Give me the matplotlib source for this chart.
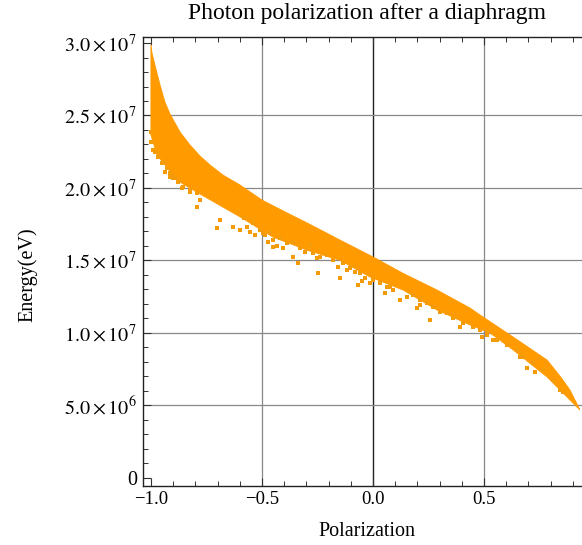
import matplotlib
matplotlib.use('Agg')
import matplotlib.pyplot as plt
from matplotlib.ticker import MultipleLocator, FuncFormatter

plt.rcParams['font.family'] = ['Liberation Serif', 'DejaVu Serif']
plt.rcParams['mathtext.fontset'] = 'stix'

# Dense band of photons: upper and lower edges (polarization, energy in eV)
upper_pol = [-1.0, -0.995, -0.982, -0.959, -0.937, -0.914, -0.869, -0.824,
             -0.779, -0.734, -0.676, -0.599, -0.5, -0.396, -0.297, -0.149,
             0.0, 0.135, 0.288, 0.437, 0.482, 0.631, 0.784, 0.842, 0.887, 0.932]
upper_energy = [2.99e7, 2.93e7, 2.849e7, 2.711e7, 2.593e7, 2.51e7, 2.386e7, 2.296e7,
                2.22e7, 2.158e7, 2.089e7, 2.02e7, 1.916e7, 1.834e7, 1.758e7, 1.64e7,
                1.523e7, 1.41e7, 1.295e7, 1.17e7, 1.122e7, 0.97e7, 0.811e7, 0.70e7,
                0.604e7, 0.466e7]
lower_pol = [-1.0, -0.973, -0.928, -0.869, -0.793, -0.599, -0.45, -0.297,
             -0.149, -0.014, 0.135, 0.288, 0.437, 0.527, 0.631, 0.784,
             0.887, 0.932]
lower_energy = [2.365e7, 2.23e7, 2.14e7, 2.04e7, 1.97e7, 1.80e7, 1.66e7, 1.57e7,
                1.50e7, 1.385e7, 1.295e7, 1.157e7, 1.053e7, 0.998e7, 0.881e7, 0.694e7,
                0.535e7, 0.466e7]

# Sparse photons along and below the lower edge of the band
stray_pol = [-1.0, -0.982, -0.946, -0.937, -0.905, -0.892, -0.86, -0.824, -0.914,
             -0.779, -0.703, -0.599, -0.495, -0.45, -0.36, -0.689, -0.793, -0.631,
             -0.405, -0.338, -0.248, -0.149, -0.068, -0.432, -0.532, -0.473, -0.554,
             -0.252, -0.117, -0.05, 0.054, 0.122, 0.257, 0.198, 0.392, 0.077,
             0.212, 0.491, 0.694, 0.73, 0.662, 0.541, 0.842,
             -0.58, -0.569, -0.539, -0.509, -0.486, -0.464, -0.449, -0.419, -0.389,
             -0.359, -0.329, -0.306, -0.284, -0.269, -0.239, -0.209, -0.179, -0.156,
             -0.134, -0.104, -0.081, -0.059, -0.036, -0.014,
             -1.0, -0.997, -0.99, -0.967, -0.952, -0.929, -0.914, -0.9, -0.877,
             -0.855, -0.824, -0.794,
             0.002, 0.032, 0.062, 0.092, 0.152, 0.182, 0.212, 0.242, 0.272, 0.302,
             0.332, 0.362, 0.407, 0.452, 0.482, 0.512,
             0.512, 0.557, 0.602, 0.647, 0.677, 0.722, 0.767, 0.812, 0.857]
stray_energy = [2.317e7, 2.248e7, 2.179e7, 2.11e7, 2.089e7, 2.068e7, 1.999e7, 1.972e7,
                2.075e7, 1.916e7, 1.723e7, 1.709e7, 1.689e7, 1.592e7, 1.523e7, 1.778e7,
                1.868e7, 1.73e7, 1.585e7, 1.481e7, 1.412e7, 1.378e7, 1.329e7, 1.60e7,
                1.675e7, 1.626e7, 1.695e7, 1.516e7, 1.433e7, 1.357e7, 1.274e7, 1.226e7,
                1.088e7, 1.171e7, 1.039e7, 1.316e7, 1.191e7, 0.97e7, 0.756e7, 0.729e7,
                0.832e7, 0.95e7, 0.604e7,
                1.79e7, 1.732e7, 1.755e7, 1.709e7, 1.675e7, 1.698e7, 1.64e7, 1.652e7,
                1.617e7, 1.629e7, 1.583e7, 1.56e7, 1.606e7, 1.548e7, 1.525e7, 1.537e7,
                1.502e7, 1.456e7, 1.479e7, 1.445e7, 1.421e7, 1.41e7, 1.376e7, 1.341e7,
                2.388e7, 2.319e7, 2.262e7, 2.216e7, 2.17e7, 2.135e7, 2.101e7, 2.066e7,
                2.043e7, 2.008e7, 1.985e7, 1.963e7,
                1.364e7, 1.341e7, 1.318e7, 1.295e7, 1.249e7, 1.26e7, 1.226e7, 1.203e7,
                1.18e7, 1.145e7, 1.134e7, 1.099e7, 1.065e7, 1.037e7, 1.019e7, 0.984e7,
                0.996e7, 0.95e7, 0.915e7, 0.881e7, 0.834e7, 0.789e7, 0.742e7, 0.673e7,
                0.593e7]

orange = '#FF9A00'

fig = plt.figure(figsize=(5.82, 5.45), dpi=100)
ax = fig.add_axes([0.2452, 0.1088, 0.7548, 0.8228])

# band as polygon: upper edge then lower edge reversed
ax.fill(upper_pol + lower_pol[::-1], upper_energy + lower_energy[::-1],
        color=orange, lw=0.6, ec=orange, zorder=3)
ax.scatter(stray_pol, stray_energy, s=6, marker='s', color='#F49B0A',
           lw=0, zorder=3)

# grid lines
for x in [-0.5, 0.5]:
    ax.axvline(x, color='#888888', lw=0.9, zorder=1)
ax.axvline(0, color='#222222', lw=1.0, zorder=1)
for y in [5e6, 1e7, 1.5e7, 2e7, 2.5e7]:
    ax.axhline(y, color='#888888', lw=0.9, zorder=1)

ax.set_xlim(-1.037, 0.941)
ax.set_ylim(-5.66e5, 3.04e7)

ax.xaxis.set_major_locator(MultipleLocator(0.5))
ax.xaxis.set_minor_locator(MultipleLocator(0.1))
ax.yaxis.set_major_locator(MultipleLocator(5e6))
ax.yaxis.set_minor_locator(MultipleLocator(1e6))


def xfmt(v, pos):
    s = f'{v:.1f}'
    if s == '-0.0':
        s = '0.0'
    return s.replace('-', '\u2212')


def yfmt(v, pos):
    if abs(v) < 1:
        return '0'
    exp = 6 if v < 1e7 else 7
    return r'$%.1f\times10^{%d}$' % (v / 10 ** exp, exp)


ax.xaxis.set_major_formatter(FuncFormatter(xfmt))
ax.yaxis.set_major_formatter(FuncFormatter(yfmt))
ax.tick_params(which='both', direction='in', top=True, right=False,
               color='#333333')
ax.tick_params(axis='x', labelsize=13.5)
ax.tick_params(axis='y', labelsize=14.5)
ax.tick_params(which='major', length=6, width=0.8, pad=4)
ax.tick_params(which='minor', length=3.5, width=0.7)
ax.spines['right'].set_visible(False)
for sp in ['left', 'bottom', 'top']:
    ax.spines[sp].set_linewidth(1.0)
    ax.spines[sp].set_color('#222222')

fig.text(366.5 / 582, 1 - 14 / 545, 'Photon polarization after a diaphragm',
         ha='center', va='center', fontsize=17)
fig.text(366.5 / 582, 1 - 531 / 545, 'Polarization',
         ha='center', va='center', fontsize=14.5)
fig.text(28 / 582, 1 - 275 / 545, 'Energy(eV)', rotation=90,
         ha='center', va='center', fontsize=14.5)

fig.savefig('out.png', dpi=100)
